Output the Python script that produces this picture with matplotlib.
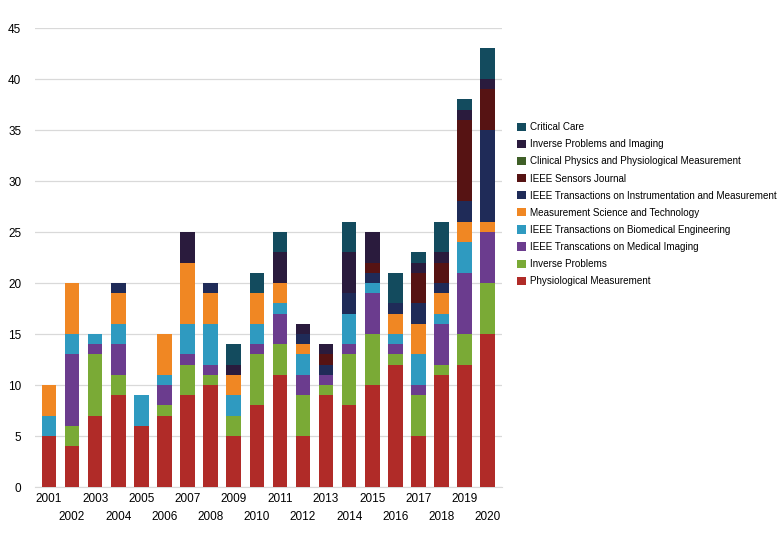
import numpy as np
import matplotlib
matplotlib.use("Agg")
import matplotlib.pyplot as plt

plt.rcParams['font.family'] = ['Liberation Sans', 'DejaVu Sans']

years = [str(y) for y in range(2001, 2021)]

# counts per journal, one entry per year 2001..2020
phys_meas = [5, 4, 7, 9, 6, 7, 9, 10, 5, 8, 11, 5, 9, 8, 10, 12, 5, 11, 12, 15]
inv_prob = [0, 2, 6, 2, 0, 1, 3, 1, 2, 5, 3, 4, 1, 5, 5, 1, 4, 1, 3, 5]
ieee_tmi = [0, 7, 1, 3, 0, 2, 1, 1, 0, 1, 3, 2, 1, 1, 4, 1, 1, 4, 6, 5]
ieee_tbme = [2, 2, 1, 2, 3, 1, 3, 4, 2, 2, 1, 2, 0, 3, 1, 1, 3, 1, 3, 0]
mst = [3, 5, 0, 3, 0, 4, 6, 3, 2, 3, 2, 1, 0, 0, 0, 2, 3, 2, 2, 1]
ieee_tim = [0, 0, 0, 1, 0, 0, 0, 1, 0, 0, 0, 1, 1, 2, 1, 1, 2, 1, 2, 9]
ieee_sensors = [0, 0, 0, 0, 0, 0, 0, 0, 0, 0, 0, 0, 1, 0, 1, 0, 3, 2, 8, 4]
clin_phys = [0] * 20
inv_prob_img = [0, 0, 0, 0, 0, 0, 3, 0, 1, 0, 3, 1, 1, 4, 3, 0, 1, 1, 1, 1]
crit_care = [0, 0, 0, 0, 0, 0, 0, 0, 2, 2, 2, 0, 0, 3, 0, 3, 1, 3, 1, 3]

series = [
    ("Physiological Measurement", phys_meas, "#b02b28"),
    ("Inverse Problems", inv_prob, "#7aaa36"),
    ("IEEE Transcations on Medical Imaging", ieee_tmi, "#6b3c8e"),
    ("IEEE Transactions on Biomedical Engineering", ieee_tbme, "#2f9ac0"),
    ("Measurement Science and Technology", mst, "#f08723"),
    ("IEEE Transactions on Instrumentation and Measurement", ieee_tim, "#1f2b58"),
    ("IEEE Sensors Journal", ieee_sensors, "#561313"),
    ("Clinical Physics and Physiological Measurement", clin_phys, "#3f5f28"),
    ("Inverse Problems and Imaging", inv_prob_img, "#2a1b3d"),
    ("Critical Care", crit_care, "#134b5e"),
]

fig = plt.figure(figsize=(7.8, 5.4), dpi=100)
ax = fig.add_axes([0.045, 0.098, 0.598, 0.85])

x = np.arange(len(years))
bottom = np.zeros(len(years))
for name, vals, col in series:
    ax.bar(x, vals, 0.63, bottom=bottom, color=col, label=name, zorder=3)
    bottom += np.array(vals)

ax.set_ylim(0, 45)
ax.set_xlim(-0.6, len(years) - 0.4)
ax.set_yticks(range(0, 46, 5))
ax.yaxis.grid(True, color="#d9d9d9", linewidth=0.9, zorder=0)
for s in ["top", "right", "left"]:
    ax.spines[s].set_visible(False)
ax.spines["bottom"].set_color("#d9d9d9")
ax.tick_params(axis="y", length=0, labelsize=8.5, pad=10)

# staggered year labels: odd positions on the upper row, even on the lower
ax.set_xticks(x[::2])
ax.set_xticklabels(years[::2])
ax.set_xticks(x[1::2], minor=True)
ax.set_xticklabels(years[1::2], minor=True)
ax.tick_params(axis="x", which="major", length=0, labelsize=8.5, pad=4)
ax.tick_params(axis="x", which="minor", length=0, labelsize=8.5, pad=17)

handles, names = ax.get_legend_handles_labels()
leg = fig.legend(handles[::-1], names[::-1], loc="upper left",
                 bbox_to_anchor=(0.652, 0.79), frameon=False,
                 fontsize=7.1, handlelength=0.9, handleheight=0.9,
                 handletextpad=0.4, labelspacing=0.72)

fig.savefig("out.png", dpi=100)
